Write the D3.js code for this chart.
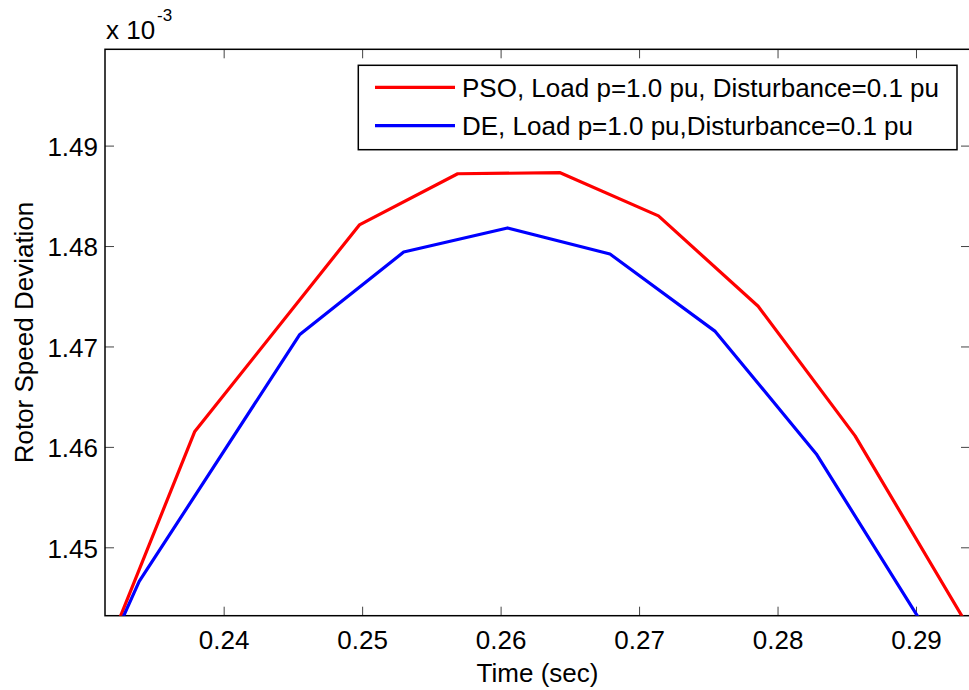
<!DOCTYPE html>
<html>
<head>
<meta charset="utf-8">
<script src="https://cdn.jsdelivr.net/npm/d3@7"></script>
<style>
  body { margin: 0; background: #fff; }
  svg { display: block; font-family: "Liberation Sans", Arial, sans-serif; }
</style>
</head>
<body>
<div id="chart"></div>
<script>
// values (deviation in units of 1e-3)
var timePSO = [0.2314, 0.2379, 0.2498, 0.2569, 0.2643, 0.2714, 0.2786, 0.2856, 0.2939];
var devPSO = [1.4392, 1.4615, 1.4821, 1.4872, 1.4873, 1.4830, 1.4740, 1.4611, 1.4418];
var timeDE = [0.2322, 0.2339, 0.2455, 0.2530, 0.2605, 0.2679, 0.2755, 0.2828, 0.2914];
var devDE = [1.4414, 1.4466, 1.4712, 1.4794, 1.4818, 1.4792, 1.4715, 1.4593, 1.4403];
var xTicks = [0.24, 0.25, 0.26, 0.27, 0.28, 0.29];
var yTicks = [1.45, 1.46, 1.47, 1.48, 1.49];
var legendLabels = ["PSO, Load p=1.0 pu, Disturbance=0.1 pu", "DE, Load p=1.0 pu,Disturbance=0.1 pu"];
var colors = ["#ff0000", "#0000ff"];

var width = 969, height = 690;
var plotLeft = 105, plotRight = 970, plotTop = 49.3, plotBottom = 615.7;
var fontSize = "26px";

var svg = d3.select("#chart").append("svg")
  .attr("width", width)
  .attr("height", height);

var x = d3.scaleLinear().domain([0.23143, 0.2939]).range([plotLeft, plotRight]);
var y = d3.scaleLinear().domain([1.44319, 1.49959]).range([plotBottom, plotTop]);

svg.append("clipPath").attr("id", "plotclip")
  .append("rect")
  .attr("x", plotLeft).attr("y", plotTop)
  .attr("width", plotRight - plotLeft).attr("height", plotBottom - plotTop);

// axes with inward ticks
var axisB = d3.axisBottom(x).tickValues(xTicks).tickFormat(d3.format(".2f"))
  .tickSizeInner(-9).tickSizeOuter(0).tickPadding(15);
var axisT = d3.axisTop(x).tickValues(xTicks).tickFormat("")
  .tickSizeInner(-9).tickSizeOuter(0);
var axisL = d3.axisLeft(y).tickValues(yTicks).tickFormat(d3.format(".2f"))
  .tickSizeInner(-9).tickSizeOuter(0).tickPadding(7);
var axisR = d3.axisRight(y).tickValues(yTicks).tickFormat("")
  .tickSizeInner(-9).tickSizeOuter(0);

function styleAxis(g) {
  g.select(".domain").remove();
  g.selectAll(".tick line").attr("stroke", "#444").attr("stroke-width", 1);
  g.selectAll(".tick text").attr("fill", "#000").style("font-size", fontSize);
}

svg.append("g").attr("transform", "translate(0," + plotBottom + ")").call(axisB).call(styleAxis);
svg.append("g").attr("transform", "translate(0," + plotTop + ")").call(axisT).call(styleAxis);
svg.append("g").attr("transform", "translate(" + plotLeft + ",0)").call(axisL).call(styleAxis)
  .selectAll(".tick text").attr("dy", "0.38em");
svg.append("g").attr("transform", "translate(" + plotRight + ",0)").call(axisR).call(styleAxis);

svg.append("rect")
  .attr("x", plotLeft).attr("y", plotTop)
  .attr("width", plotRight - plotLeft).attr("height", plotBottom - plotTop)
  .attr("fill", "none").attr("stroke", "#000").attr("stroke-width", 1.5);

// series
var line = d3.line().x(function (d) { return x(d[0]); }).y(function (d) { return y(d[1]); });
var series = [
  d3.zip(timePSO, devPSO),
  d3.zip(timeDE, devDE)
];
svg.append("g").attr("clip-path", "url(#plotclip)")
  .selectAll("path")
  .data(series)
  .enter()
  .append("path")
  .attr("d", line)
  .attr("fill", "none")
  .attr("stroke", function (d, i) { return colors[i]; })
  .attr("stroke-width", 3.2)
  .attr("stroke-linejoin", "round");

// labels
svg.append("text")
  .attr("x", (plotLeft + plotRight) / 2).attr("y", 682)
  .attr("text-anchor", "middle")
  .style("font-size", fontSize)
  .text("Time (sec)");

svg.append("text")
  .attr("transform", "translate(33," + ((plotTop + plotBottom) / 2) + ") rotate(-90)")
  .attr("text-anchor", "middle")
  .style("font-size", fontSize)
  .text("Rotor Speed Deviation");

svg.append("text")
  .attr("x", 106).attr("y", 38.5)
  .style("font-size", fontSize)
  .text("x 10");
svg.append("text")
  .attr("x", 157).attr("y", 21)
  .style("font-size", "17px")
  .text("-3");

// legend
var legend = svg.append("g");
legend.append("rect")
  .attr("x", 358.3).attr("y", 65.3)
  .attr("width", 957 - 358.3).attr("height", 149.7 - 65.3)
  .attr("fill", "#fff").attr("stroke", "#000").attr("stroke-width", 1.5);

var rowY = d3.scalePoint().domain([0, 1]).range([87.3, 125.7]);
var item = legend.selectAll("g.item")
  .data(legendLabels)
  .enter()
  .append("g")
  .attr("class", "item")
  .attr("transform", function (d, i) { return "translate(0," + rowY(i) + ")"; });
item.append("line")
  .attr("x1", 375).attr("x2", 455)
  .attr("stroke", function (d, i) { return colors[i]; })
  .attr("stroke-width", 3.2);
item.append("text")
  .attr("x", 462).attr("dy", "0.36em")
  .style("font-size", fontSize)
  .text(function (d) { return d; });
</script>
</body>
</html>
